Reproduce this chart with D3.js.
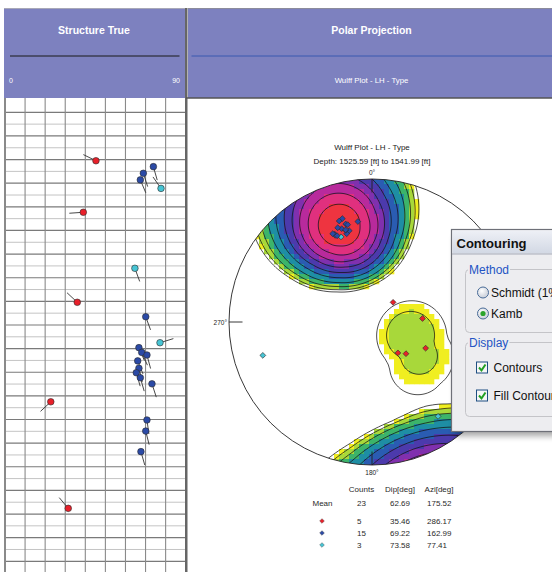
<!DOCTYPE html>
<html>
<head>
<meta charset="utf-8">
<script src="https://cdn.jsdelivr.net/npm/d3@7"></script>
<style>
  html, body { margin: 0; padding: 0; background: #fff; }
  svg { display: block; font-family: "Liberation Sans", Arial, sans-serif; }
</style>
</head>
<body>
<svg id="chart"></svg>
<script>
// tadpole readings: depth [ft], dip [deg], dip azimuth [deg], set
const depths = [1526.05, 1526.30, 1526.58, 1526.86, 1527.22, 1528.23, 1530.60, 1532.04, 1532.65, 1533.75, 1533.96, 1534.16,
    1534.27, 1534.52, 1534.83, 1535.02, 1535.23, 1535.49, 1536.25, 1537.02, 1537.49, 1538.36, 1540.76];
const dips = [45.3, 73.9, 68.9, 67.4, 77.7, 39.0, 64.7, 36.0, 70.1, 77.2, 66.7, 68.1,
    70.7, 66.1, 66.7, 65.4, 67.4, 73.2, 22.8, 70.7, 70.1, 67.7, 31.5];
const azis = [296, 164, 162, 157, 325, 266, 160, 313, 160, 73, 157, 156,
    165, 158, 166, 164, 164, 162, 227, 172, 166, 164, 320];
const sets = ["red", "blue", "blue", "blue", "cyan", "red", "cyan", "red", "blue", "cyan", "blue", "blue",
    "blue", "blue", "blue", "blue", "blue", "blue", "red", "blue", "blue", "blue", "red"];

// statistics table
const statHeaders = ["Counts", "Dip[deg]", "Azi[deg]"];
const meanStats = ["23", "62.69", "175.52"];
const setNames = ["red", "blue", "cyan"];
const setCounts = ["5", "15", "3"];
const setDips = ["35.46", "69.22", "73.58"];
const setAzis = ["286.17", "162.99", "77.41"];

// contour levels (Kamb counts): lines, fill bands and their colours
const lineLevels = [2.45, 3.3, 4.6, 6.2, 8.0, 9.7, 11.2, 12.5, 13.8, 15.0];
const fillLevels = [2.8, 3.3, 4.6, 6.2, 8.0, 9.7, 11.2, 12.5, 13.8, 15.0];
const bandColors = ["#f0ee20", "#a8d83a", "#3cb46a", "#1e8ea4", "#2a5cb2", "#4c3aac", "#8030ae", "#b82a9c", "#e0307e", "#ee3440"];

const setColor = { red: "#e8202a", blue: "#2b4aa6", cyan: "#46c4d4" };
const rad = Math.PI / 180;

const W = 552, H = 572;
const svg = d3.select("#chart").attr("width", W).attr("height", H);
const defs = svg.append("defs");

// ---------- left panel: structure true ----------
const dipX = d3.scaleLinear().domain([0, 90]).range([5, 185.7]);
const depthY = d3.scaleLinear().domain([1523.5, 1543.5]).range([100.5, 573.1]);

const grid = svg.append("g");
d3.range(1524, 1543.6, 0.5).forEach(d => {
    grid.append("line")
        .attr("x1", dipX(0)).attr("x2", dipX(90))
        .attr("y1", depthY(d)).attr("y2", depthY(d))
        .attr("stroke", Number.isInteger(d) ? "#7a7a7a" : "#c4c4c4")
        .attr("stroke-width", Number.isInteger(d) ? 1.2 : 1);
});
dipX.ticks(9).forEach(t => {
    grid.append("line")
        .attr("x1", dipX(t)).attr("x2", dipX(t))
        .attr("y1", 98).attr("y2", H)
        .attr("stroke", "#8a8a8a")
        .attr("stroke-width", (t === 0) ? 2 : 1.1);
});

const tadpoles = svg.append("g");
depths.forEach((d, i) => {
    const x = dipX(dips[i]), y = depthY(d);
    const a = azis[i] * rad, len = 14;
    tadpoles.append("line")
        .attr("x1", x).attr("y1", y)
        .attr("x2", x + len * Math.sin(a)).attr("y2", y - len * Math.cos(a))
        .attr("stroke", "#333").attr("stroke-width", 0.9);
});
depths.forEach((d, i) => {
    tadpoles.append("circle")
        .attr("cx", dipX(dips[i])).attr("cy", depthY(d)).attr("r", 3.3)
        .attr("fill", setColor[sets[i]])
        .attr("stroke", "#2a2a2a").attr("stroke-width", 0.6);
});

// ---------- headers ----------
const hdrFill = "#7d81bf";
svg.append("rect").attr("x", 4).attr("y", 8).attr("width", 182).attr("height", 90).attr("fill", hdrFill);
svg.append("line").attr("x1", 4).attr("x2", 186).attr("y1", 8.5).attr("y2", 8.5).attr("stroke", "#a8a8b8");
svg.append("rect").attr("x", 185).attr("y", 8).attr("width", 2.5).attr("height", H - 8).attr("fill", "#666");
svg.append("rect").attr("x", 188).attr("y", 8).attr("width", W - 188).attr("height", 90).attr("fill", hdrFill);
svg.append("line").attr("x1", 188).attr("x2", W).attr("y1", 8.5).attr("y2", 8.5).attr("stroke", "#8c8c9c");
svg.append("line").attr("x1", 186).attr("x2", W).attr("y1", 98).attr("y2", 98).attr("stroke", "#555").attr("stroke-width", 1.5);

svg.append("text").attr("x", 94).attr("y", 33.5).attr("text-anchor", "middle")
    .attr("fill", "#fff").attr("font-size", 10.5).attr("font-weight", "bold").text("Structure True");
svg.append("line").attr("x1", 10).attr("x2", 179.5).attr("y1", 56).attr("y2", 56).attr("stroke", "#1a1a1a").attr("stroke-width", 1);
svg.append("text").attr("x", 9).attr("y", 83).attr("fill", "#fff").attr("font-size", 7).text(dipX.domain()[0]);
svg.append("text").attr("x", 180).attr("y", 83).attr("text-anchor", "end").attr("fill", "#fff").attr("font-size", 7).text(dipX.domain()[1]);

svg.append("text").attr("x", 371.5).attr("y", 33.5).attr("text-anchor", "middle")
    .attr("fill", "#fff").attr("font-size", 10.5).attr("font-weight", "bold").text("Polar Projection");
svg.append("line").attr("x1", 191.5).attr("x2", W).attr("y1", 56).attr("y2", 56).attr("stroke", "#3a58b0").attr("stroke-width", 1);
svg.append("text").attr("x", 371.5).attr("y", 83).attr("text-anchor", "middle")
    .attr("fill", "#fff").attr("font-size", 7.8).text("Wulff Plot - LH - Type");

// ---------- stereonet ----------
const R = 143, cx = 372, cy = 322;
const rho = d3.scaleLinear().domain([0, 1]).range([0, R]);

function poleVec(dip, azi) {
    const tr = (azi + 180) * rad, pl = (90 - dip) * rad;
    return [Math.cos(pl) * Math.sin(tr), Math.cos(pl) * Math.cos(tr), Math.sin(pl)];
}
function project(v) {
    let [e, n, d] = v;
    if (d < 0) { e = -e; n = -n; d = -d; }
    const phi = Math.acos(Math.min(1, d)), t = Math.atan2(e, n), r = rho(Math.tan(phi / 2));
    return [cx + r * Math.sin(t), cy - r * Math.cos(t)];
}
function unproject(px, py) {
    const X = rho.invert(px - cx), Y = rho.invert(cy - py);
    const phi = 2 * Math.atan(Math.hypot(X, Y)), t = Math.atan2(X, Y);
    return [Math.sin(phi) * Math.sin(t), Math.sin(phi) * Math.cos(t), Math.cos(phi)];
}

const poles = dips.map((d, i) => poleVec(d, azis[i]));
const c0 = 1 - 9 / (poles.length + 9);
function density(v) {
    let s = 0;
    poles.forEach(p => {
        const c = Math.abs(v[0] * p[0] + v[1] * p[1] + v[2] * p[2]);
        if (c > c0) s += (c - c0) / (1 - c0);
    });
    return s;
}

defs.append("clipPath").attr("id", "net").append("circle").attr("cx", cx).attr("cy", cy).attr("r", R);
const net = svg.append("g");
const fillG = net.append("g").attr("clip-path", "url(#net)");

const cell = 5, x0 = cx - R, y0 = cy - R;
const nCell = Math.ceil(2 * R / cell);
for (let j = 0; j < nCell; j++) {
    for (let i = 0; i < nCell; i++) {
        const px = x0 + (i + 0.5) * cell, py = y0 + (j + 0.5) * cell;
        if (Math.hypot(px - cx, py - cy) > R + cell) continue;
        const k = d3.bisectRight(fillLevels, density(unproject(px, py))) - 1;
        if (k < 0) continue;
        fillG.append("rect").attr("x", x0 + i * cell).attr("y", y0 + j * cell)
            .attr("width", cell + 0.3).attr("height", cell + 0.3).attr("fill", bandColors[k]);
    }
}

const step = 2, n = Math.ceil(2 * R / step) + 1;
const values = new Float64Array(n * n);
for (let j = 0; j < n; j++)
    for (let i = 0; i < n; i++)
        values[j * n + i] = density(unproject(x0 + i * step, y0 + j * step));
const contours = d3.contours().size([n, n]).thresholds(lineLevels)(values);
const toPx = d3.geoTransform({
    point(x, y) { this.stream.point(x0 + (x - 0.5) * step, y0 + (y - 0.5) * step); }
});
net.append("g").attr("clip-path", "url(#net)")
    .selectAll("path").data(contours).join("path")
    .attr("d", d3.geoPath(toPx))
    .attr("fill", "none").attr("stroke", "#141414").attr("stroke-width", 0.75);

net.append("circle").attr("cx", cx).attr("cy", cy).attr("r", R)
    .attr("fill", "none").attr("stroke", "#222").attr("stroke-width", 0.9);

[0, 90, 180, 270].forEach(a => {
    const s = Math.sin(a * rad), c = Math.cos(a * rad);
    net.append("line")
        .attr("x1", cx + R * s).attr("y1", cy - R * c)
        .attr("x2", cx + (R - 13.5) * s).attr("y2", cy - (R - 13.5) * c)
        .attr("stroke", "#222").attr("stroke-width", 0.9);
});
net.append("text").attr("x", cx).attr("y", cy - R - 4).attr("text-anchor", "middle").attr("font-size", 6.5).attr("fill", "#222").text("0°");
net.append("text").attr("x", cx).attr("y", cy + R + 10).attr("text-anchor", "middle").attr("font-size", 6.5).attr("fill", "#222").text("180°");
net.append("text").attr("x", cx - R - 2).attr("y", cy + 3).attr("text-anchor", "end").attr("font-size", 6.5).attr("fill", "#222").text("270°");

const marker = d3.symbol().type(d3.symbolSquare).size(17);
poles.forEach((p, i) => {
    const [px, py] = project(p);
    net.append("path").attr("d", marker).attr("transform", `translate(${px},${py}) rotate(45)`)
        .attr("fill", setColor[sets[i]]).attr("stroke", "#2a2a2a").attr("stroke-width", 0.6);
});

svg.append("text").attr("x", cx).attr("y", 150).attr("text-anchor", "middle").attr("font-size", 8).attr("fill", "#222")
    .text("Wulff Plot - LH - Type");
svg.append("text").attr("x", cx).attr("y", 163.5).attr("text-anchor", "middle").attr("font-size", 8).attr("fill", "#222")
    .text(`Depth: ${d3.format(".2f")(1525.59)} [ft] to ${d3.format(".2f")(1541.99)} [ft]`);

// ---------- statistics table ----------
const tbl = svg.append("g");
const colX = [357, 390, 427];
const cellText = (x, y, s, anchor) => tbl.append("text").attr("x", x).attr("y", y)
    .attr("text-anchor", anchor || "start").attr("font-size", 8).attr("fill", "#2a2a2a").text(s);
statHeaders.forEach((h, i) => cellText([361.5, 400, 439][i], 492, h, "middle"));
cellText(322.5, 506, "Mean", "middle");
meanStats.forEach((v, i) => cellText(colX[i], 506, v));
const smallMarker = d3.symbol().type(d3.symbolSquare).size(11);
setNames.forEach((s, r) => {
    const y = 521 + r * 12;
    tbl.append("path").attr("d", smallMarker).attr("transform", `translate(322,${y}) rotate(45)`)
        .attr("fill", setColor[s]).attr("stroke", "#444").attr("stroke-width", 0.4);
    [setCounts[r], setDips[r], setAzis[r]].forEach((v, i) => cellText(colX[i], y + 3, v));
});

// ---------- contouring dialog ----------
const dlg = svg.append("g");
defs.append("filter").attr("id", "shadow").attr("x", "-20%").attr("y", "-20%").attr("width", "140%").attr("height", "140%")
    .append("feGaussianBlur").attr("stdDeviation", 3);
dlg.append("rect").attr("x", 455).attr("y", 236).attr("width", 120).attr("height", 200)
    .attr("fill", "#000").attr("opacity", 0.35).attr("filter", "url(#shadow)");
const tg = defs.append("linearGradient").attr("id", "titlebar").attr("x1", 0).attr("y1", 0).attr("x2", 0).attr("y2", 1);
tg.append("stop").attr("offset", 0).attr("stop-color", "#eef0f6");
tg.append("stop").attr("offset", 1).attr("stop-color", "#d2d8e4");
dlg.append("rect").attr("x", 451.5).attr("y", 229.5).attr("width", 120).attr("height", 202)
    .attr("fill", "#ededf0").attr("stroke", "#6e7078").attr("stroke-width", 1.2);
dlg.append("rect").attr("x", 452.5).attr("y", 230.5).attr("width", 120).attr("height", 23).attr("fill", "url(#titlebar)");
dlg.append("line").attr("x1", 452).attr("x2", W).attr("y1", 254).attr("y2", 254).attr("stroke", "#a8acb8");
dlg.append("text").attr("x", 456.5).attr("y", 248).attr("font-size", 13).attr("font-weight", "bold").attr("fill", "#111").text("Contouring");

function groupBox(y, h, label) {
    dlg.append("rect").attr("x", 465.5).attr("y", y).attr("width", 110).attr("height", h).attr("rx", 4)
        .attr("fill", "none").attr("stroke", "#c4c4c8");
    const t = dlg.append("text").attr("x", 469).attr("y", y + 4).attr("font-size", 12).attr("fill", "#2454c4").text(label);
    const bb = t.node().getBBox();
    dlg.insert("rect", () => t.node()).attr("x", bb.x - 1).attr("y", y - 2).attr("width", bb.width + 2).attr("height", 4).attr("fill", "#ededf0");
}
groupBox(269.5, 63, "Method");
groupBox(342.5, 74, "Display");

const rg = defs.append("radialGradient").attr("id", "radio").attr("cx", "40%").attr("cy", "35%");
rg.append("stop").attr("offset", 0).attr("stop-color", "#ffffff");
rg.append("stop").attr("offset", 1).attr("stop-color", "#d4d8e0");
[["Schmidt (1%", 292.5, false], ["Kamb", 313.5, true]].forEach(([lbl, y, on]) => {
    dlg.append("circle").attr("cx", 483).attr("cy", y).attr("r", 5.5)
        .attr("fill", "url(#radio)").attr("stroke", "#4a6c98").attr("stroke-width", 1);
    if (on) dlg.append("circle").attr("cx", 483).attr("cy", y).attr("r", 2.6).attr("fill", "#2ca42c");
    dlg.append("text").attr("x", 491).attr("y", y + 4.3).attr("font-size", 12).attr("fill", "#111").text(lbl);
});
[["Contours", 367.5], ["Fill Contours", 395.5]].forEach(([lbl, y]) => {
    dlg.append("rect").attr("x", 476.5).attr("y", y - 5.5).attr("width", 11).attr("height", 11)
        .attr("fill", "#f6f6f6").attr("stroke", "#1e4f82").attr("stroke-width", 1);
    dlg.append("path").attr("d", `M${479},${y} L${481.5},${y + 2.8} L${485.5},${y - 3}`)
        .attr("fill", "none").attr("stroke", "#22a022").attr("stroke-width", 2);
    dlg.append("text").attr("x", 493.5).attr("y", y + 4.3).attr("font-size", 12).attr("fill", "#111").text(lbl);
});
</script>
</body>
</html>
